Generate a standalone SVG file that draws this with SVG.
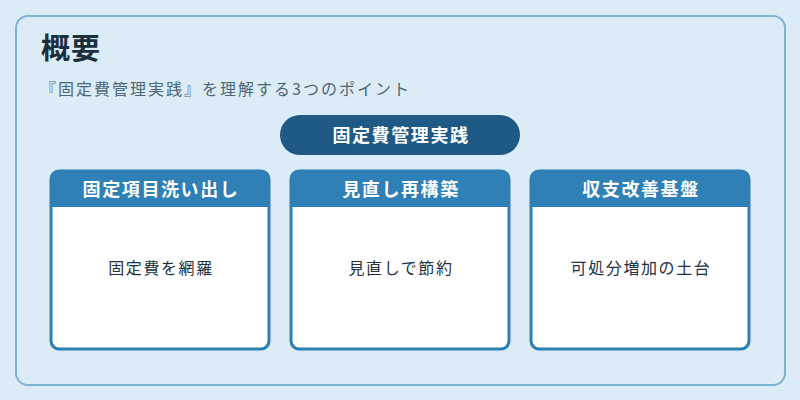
<svg xmlns="http://www.w3.org/2000/svg" width="800" height="400" viewBox="0 0 800 400">
<defs>
<style>
text{font-family:"Noto Sans CJK JP","Noto Sans",sans-serif;}
.title{font-size:29px;font-weight:700;fill:#1b2f3f;letter-spacing:1px;}
.sub{font-size:16px;fill:#4d6778;letter-spacing:2px;}
.pill{fill:#1f5a87;}
.pilltxt{font-size:18px;font-weight:700;fill:#ffffff;text-anchor:middle;letter-spacing:1.6px;}
.card{fill:#ffffff;stroke:#2e7fb5;stroke-width:3;}
.head{fill:#2e80b6;}
.headtxt{font-size:18px;font-weight:700;fill:#ffffff;text-anchor:middle;letter-spacing:1.6px;}
.body{font-size:16px;fill:#22313d;text-anchor:middle;letter-spacing:1.6px;}
</style>
<clipPath id="c1"><rect x="50" y="170" width="220" height="180" rx="9"/></clipPath>
<clipPath id="c2"><rect x="290" y="170" width="220" height="180" rx="9"/></clipPath>
<clipPath id="c3"><rect x="530" y="170" width="220" height="180" rx="9"/></clipPath>
</defs>
<rect width="800" height="400" fill="#dcecf7"/>
<g id="panel">
<rect x="16" y="16" width="769" height="369" rx="12" fill="#dcecf7" stroke="#7fb3d4" stroke-width="2"/>
<text class="title" x="41" y="59">概要</text>
<text class="sub" x="40" y="95">『固定費管理実践』を理解する3つのポイント</text>
</g>
<g id="connectors"></g>
<g id="root">
<rect class="pill" x="280" y="115" width="240" height="40" rx="20"/>
<text class="pilltxt" x="401" y="142">固定費管理実践</text>
</g>
<g id="card1">
<rect class="card" x="51" y="171" width="218" height="178" rx="8"/>
<rect class="head" x="50" y="170" width="220" height="37" clip-path="url(#c1)"/>
<text class="headtxt" x="161" y="196">固定項目洗い出し</text>
<text class="body" x="161" y="274">固定費を網羅</text>
</g>
<g id="card2">
<rect class="card" x="291" y="171" width="218" height="178" rx="8"/>
<rect class="head" x="290" y="170" width="220" height="37" clip-path="url(#c2)"/>
<text class="headtxt" x="401" y="196">見直し再構築</text>
<text class="body" x="401" y="274">見直しで節約</text>
</g>
<g id="card3">
<rect class="card" x="531" y="171" width="218" height="178" rx="8"/>
<rect class="head" x="530" y="170" width="220" height="37" clip-path="url(#c3)"/>
<text class="headtxt" x="641" y="196">収支改善基盤</text>
<text class="body" x="641" y="274">可処分増加の土台</text>
</g>
</svg>
